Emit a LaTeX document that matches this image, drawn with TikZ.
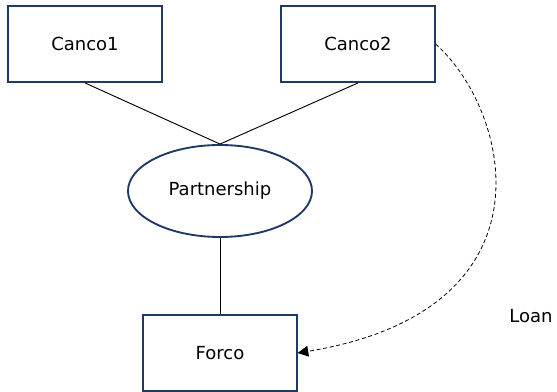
\documentclass[tikz,border=0pt]{standalone}
\usepackage{fontspec}
\setmainfont{DejaVu Sans}
\usetikzlibrary{shapes.geometric, arrows.meta}
\definecolor{boxline}{RGB}{31,56,100}
\tikzstyle{company} = [rectangle, minimum width = 115pt, minimum height = 57pt,
  text centered, draw = boxline, line width = 1.4pt]
\tikzstyle{vehicle} = [ellipse, minimum width = 138pt, minimum height = 69pt,
  text centered, draw = boxline, line width = 1.4pt]
\tikzstyle{link} = [line width = 0.7pt]
\tikzstyle{loanarrow} = [line width = 0.6pt, dash pattern = on 3pt off 2pt,
  -{Triangle[length = 8pt, width = 8pt]}]

\begin{document}
\begin{tikzpicture}[x = 0.75pt, y = -0.75pt, font = \fontsize{13.5}{16}\selectfont]
  \useasboundingbox (0,0) rectangle (557,392);
  \node (canco1) [company] at (85,44) {Canco1};
  \node (canco2) [company] at (358,44) {Canco2};
  \node (partnership) [vehicle] at (220,191) {Partnership};
  \node (forco) [company] at (220,353) {Forco};
  \node (loan) at (531,316) {Loan};

  \draw [link] (canco1.south) -- (partnership.north);
  \draw [link] (canco2.south) -- (partnership.north);
  \draw [link] (partnership) -- (forco);
  \draw [loanarrow] (canco2.east) .. controls (510,110) and (560,310) .. (forco.east);
\end{tikzpicture}
\end{document}
